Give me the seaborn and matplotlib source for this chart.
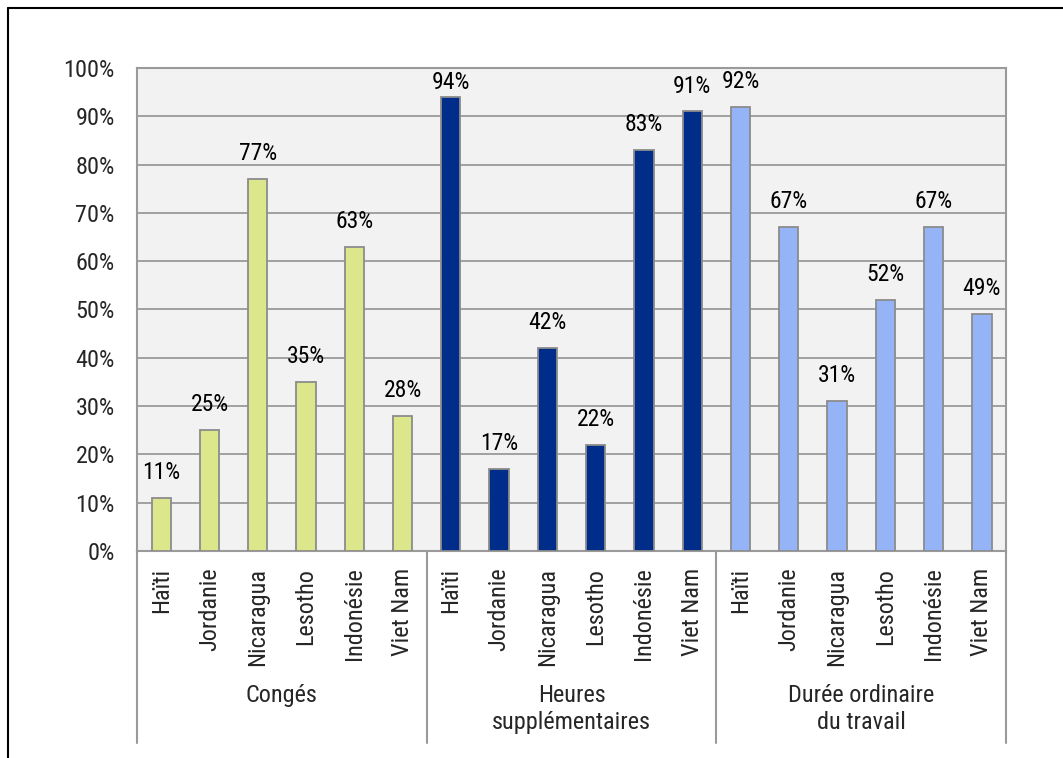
import numpy as np
import pandas as pd
import matplotlib
matplotlib.use("Agg")
import matplotlib.pyplot as plt
import matplotlib.transforms as mtransforms
from matplotlib.lines import Line2D
import seaborn as sns

# data
groups = ["Congés", "Heures\nsupplémentaires", "Durée ordinaire\ndu travail"]
countries = ["Haïti", "Jordanie", "Nicaragua", "Lesotho", "Indonésie", "Viet Nam"]
conges = [11, 25, 77, 35, 63, 28]
heures_sup = [94, 17, 42, 22, 83, 91]
duree = [92, 67, 31, 52, 67, 49]
colors = ["#DCE68B", "#002D89", "#95B4F8"]

rows = []
for g, vals in zip(groups, [conges, heures_sup, duree]):
    for c, v in zip(countries, vals):
        rows.append({"group": g, "country": c, "value": v})
df = pd.DataFrame(rows)
df["pos"] = np.arange(len(df))

sns.set_style("white")
plt.rcParams["font.family"] = ["Roboto Condensed", "Liberation Sans", "DejaVu Sans"]

fig = plt.figure(figsize=(10.63, 7.58), dpi=100)
ax = fig.add_axes([0.1289, 0.2731, 0.8175, 0.6372])
ax.set_facecolor("#F2F2F2")

sns.barplot(data=df, x="pos", y="value", hue="group", palette=colors,
            saturation=1, dodge=False, width=0.4, edgecolor="#8C8C8C",
            linewidth=1.3, legend=False, ax=ax, zorder=3)

# value labels (pushed inside the plot area near the top, like Excel does)
for cont in ax.containers:
    for bar in cont:
        v = bar.get_height()
        pad = 2 if v > 92 else 10
        ax.annotate(f"{v:.0f}%", (bar.get_x() + bar.get_width() / 2, v),
                    xytext=(0, pad), textcoords="offset points",
                    ha="center", va="bottom", fontsize=17, color="black")

ax.set_ylim(0, 100)
ax.set_xlim(-0.5, len(df) - 0.5)
ax.set_yticks(np.arange(0, 101, 10))
ax.set_yticklabels([f"{t}%" for t in range(0, 101, 10)], fontsize=17.5)
ax.yaxis.grid(True, color="#9A9A9A", linewidth=1.3, zorder=0)
ax.set_axisbelow(True)
ax.set_xticks(df["pos"])
ax.set_xticklabels(df["country"], rotation=90, fontsize=17.5, va="top")
ax.tick_params(axis="x", length=0, pad=12)
ax.tick_params(axis="y", length=0, pad=16)
ax.set_xlabel("")
ax.set_ylabel("")
for s in ax.spines.values():
    s.set_color("#9A9A9A")
    s.set_linewidth(1.5)

# group separators and group labels below the axis
trans = mtransforms.blended_transform_factory(ax.transData, ax.transAxes)
bounds = [-0.5, 5.5, 11.5, 17.5]
for b in bounds:
    ax.add_line(Line2D([b, b], [0, -0.397], transform=trans, color="#9A9A9A",
                       linewidth=1.5, clip_on=False))
for i, g in enumerate(groups):
    ax.text(i * 6 + 2.5, -0.276, g, transform=trans, ha="center", va="top",
            fontsize=17.5, linespacing=1.2)

# outer chart frame (top and left visible)
fig.add_artist(Line2D([0.0075, 1.0], [0.9894, 0.9894], transform=fig.transFigure,
                      color="black", linewidth=1.5))
fig.add_artist(Line2D([0.0075, 0.0075], [0.0, 0.9894], transform=fig.transFigure,
                      color="black", linewidth=1.5))

fig.savefig("out.png", dpi=100)
